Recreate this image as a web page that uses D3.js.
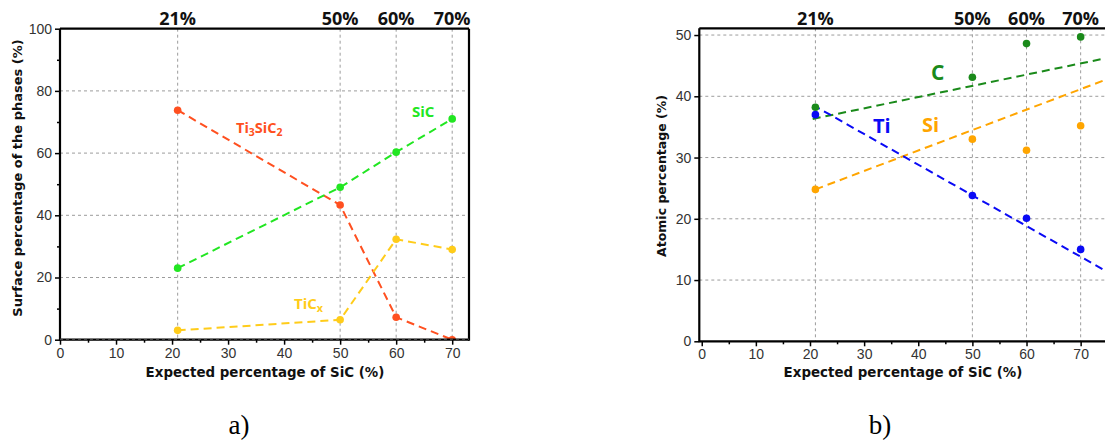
<!DOCTYPE html>
<html>
<head>
<meta charset="utf-8">
<script src="https://cdn.jsdelivr.net/npm/d3@7"></script>
<style>
  html, body { margin: 0; padding: 0; background: #fff; }
  svg { display: block; }
</style>
</head>
<body>
<svg id="chart" width="1105" height="441"></svg>
<script>
// ---------- data ----------
const xCats = [21, 50, 60, 70];
const topLabels = ["21%", "50%", "60%", "70%"];

// panel a: surface percentage of phases
const ti3sic2 = [73.8, 43.3, 7.2, 0];
const sic = [23.0, 49.0, 60.3, 71.0];
const ticx = [3.0, 6.4, 32.3, 29.0];

// panel b: atomic percentage
const atomC = [38.2, 43.1, 48.6, 49.7];
const atomSi = [24.8, 33.0, 31.2, 35.2];
const atomTi = [37.0, 23.8, 20.1, 15.0];

// panel b: trend lines
const trendCX = [20.5, 80], trendCY = [36.3, 47.2];
const trendSiX = [21, 80], trendSiY = [24.8, 44.5];
const trendTiX = [20.5, 80], trendTiY = [38.6, 8.8];

const xTicksMajor = [0, 10, 20, 30, 40, 50, 60, 70];
const xTicksMinor = [5, 15, 25, 35, 45, 55, 65];
const yTicksA = [0, 20, 40, 60, 80, 100];
const yTicksAMinor = [10, 30, 50, 70, 90];
const yGridA = [0, 20, 40, 60, 80];
const yTicksB = [0, 10, 20, 30, 40, 50];

// ---------- setup ----------
const svg = d3.select("#chart");
const gridColor = "#9c9c9c";
const tickFont = "'Liberation Sans', Arial, sans-serif";
const labelFont = "'DejaVu Sans', sans-serif";
const annFont = "'Open Sans', sans-serif";

function zip(xs, ys) { return xs.map((x, i) => [x, ys[i]]); }

function panel(opts) {
  const { x, y, clipId, right } = opts;
  const g = svg.append("g");
  const [x0, x1] = [x.range()[0], right];
  const [yb, yt] = y.range();

  svg.append("clipPath").attr("id", clipId)
    .append("rect").attr("x", x0).attr("y", yt).attr("width", x1 - x0).attr("height", yb - yt);

  // gridlines
  g.selectAll(".hg").data(opts.yGrid).enter().append("line")
    .attr("x1", x0).attr("x2", x1)
    .attr("y1", d => y(d)).attr("y2", d => y(d))
    .attr("stroke", gridColor).attr("stroke-width", 1).attr("stroke-dasharray", "3,3");
  g.selectAll(".vg").data(xCats).enter().append("line")
    .attr("x1", d => x(d)).attr("x2", d => x(d))
    .attr("y1", yt).attr("y2", yb)
    .attr("stroke", gridColor).attr("stroke-width", 1).attr("stroke-dasharray", "3,3");

  // x axis
  const xAxis = d3.axisBottom(x).tickValues(xTicksMajor).tickSize(5).tickPadding(3).tickFormat(d3.format("d"));
  const xa = g.append("g").attr("transform", `translate(0,${yb})`).call(xAxis);
  xa.select(".domain").remove();
  xa.selectAll("line").attr("stroke", "#000").attr("stroke-width", 1.5);
  xa.selectAll("text").attr("font-family", tickFont).attr("font-size", 14).attr("fill", "#333");
  const xaMinor = d3.axisBottom(x).tickValues(xTicksMinor).tickSize(3).tickFormat("");
  const xm = g.append("g").attr("transform", `translate(0,${yb})`).call(xaMinor);
  xm.select(".domain").remove();
  xm.selectAll("line").attr("stroke", "#000").attr("stroke-width", 1.5);

  // y axis
  const yAxis = d3.axisLeft(y).tickValues(opts.yTicks).tickSize(5).tickPadding(3).tickFormat(d3.format("d"));
  const ya = g.append("g").attr("transform", `translate(${x0},0)`).call(yAxis);
  ya.select(".domain").remove();
  ya.selectAll("line").attr("stroke", "#000").attr("stroke-width", 1.5);
  ya.selectAll("text").attr("font-family", tickFont).attr("font-size", 14).attr("fill", "#333");
  if (opts.yMinor) {
    const yam = d3.axisLeft(y).tickValues(opts.yMinor).tickSize(3).tickFormat("");
    const ym = g.append("g").attr("transform", `translate(${x0},0)`).call(yam);
    ym.select(".domain").remove();
    ym.selectAll("line").attr("stroke", "#000").attr("stroke-width", 1.5);
  }

  // top labels
  g.selectAll(".toplab").data(xCats).enter().append("text")
    .attr("x", d => x(d)).attr("y", 25)
    .attr("text-anchor", "middle")
    .attr("font-family", annFont).attr("font-weight", 700).attr("font-size", 18)
    .attr("fill", "#111")
    .text((d, i) => topLabels[i]);

  // axis titles
  g.append("text")
    .attr("x", opts.xTitleX).attr("y", 377)
    .attr("text-anchor", "middle")
    .attr("font-family", labelFont).attr("font-weight", "bold").attr("font-size", 13.4)
    .attr("fill", "#111")
    .text("Expected percentage of SiC (%)");
  g.append("text")
    .attr("transform", `translate(${opts.yTitleX},${opts.yTitleY}) rotate(-90)`)
    .attr("text-anchor", "middle")
    .attr("font-family", labelFont).attr("font-weight", "bold").attr("font-size", opts.yTitleSize)
    .attr("fill", "#111")
    .text(opts.yTitle);

  const data = svg.append("g").attr("clip-path", `url(#${clipId})`);
  return { g, data, x0, x1, yb, yt };
}

function spines(p, showRight, bottomDashed) {
  const s = svg.append("g");
  s.append("line").attr("x1", p.x0).attr("x2", p.x0).attr("y1", p.yt).attr("y2", p.yb + 1)
    .attr("stroke", "#000").attr("stroke-width", 2.2);
  s.append("line").attr("x1", p.x0).attr("x2", p.x1).attr("y1", p.yt).attr("y2", p.yt)
    .attr("stroke", "#000").attr("stroke-width", 2.2);
  s.append("line").attr("x1", p.x0).attr("x2", p.x1).attr("y1", p.yb).attr("y2", p.yb)
    .attr("stroke", "#000").attr("stroke-width", 2.2);
  if (showRight) {
    s.append("line").attr("x1", p.x1).attr("x2", p.x1).attr("y1", p.yt).attr("y2", p.yb + 1)
      .attr("stroke", "#000").attr("stroke-width", 2.2);
  }
  if (bottomDashed) {
    s.append("line").attr("x1", p.x0).attr("x2", p.x1).attr("y1", p.yb - 0.5).attr("y2", p.yb - 0.5)
      .attr("stroke", "#777").attr("stroke-width", 0.8).attr("stroke-dasharray", "3,3");
  }
}

// ---------- panel a ----------
const xA = d3.scaleLinear().domain([0, 73]).range([60, 469]);
const yA = d3.scaleLinear().domain([0, 100]).range([339.7, 28.7]);
const pA = panel({
  x: xA, y: yA, clipId: "clipA", right: 469,
  yGrid: yGridA, yTicks: yTicksA, yMinor: yTicksAMinor,
  xTitleX: 265, yTitleX: 22, yTitleY: 178, yTitleSize: 13,
  yTitle: "Surface percentage of the phases (%)"
});

const lineA = d3.line().x(d => xA(d[0])).y(d => yA(d[1]));
const seriesA = [
  { vals: ti3sic2, color: "#ff5020" },
  { vals: sic, color: "#22e622" },
  { vals: ticx, color: "#ffcc1a" }
];
seriesA.forEach(s => {
  const pts = zip(xCats, s.vals);
  pA.data.append("path").datum(pts).attr("d", lineA)
    .attr("fill", "none").attr("stroke", s.color).attr("stroke-width", 2)
    .attr("stroke-dasharray", "8,5");
  pA.data.selectAll(null).data(pts).enter().append("circle")
    .attr("cx", d => xA(d[0])).attr("cy", d => yA(d[1])).attr("r", 3.8)
    .attr("fill", s.color);
});
spines(pA, true, true);

// annotations
function subLabel(x, y, parts, color, size) {
  const t = svg.append("text").attr("x", x).attr("y", y)
    .attr("font-family", annFont).attr("font-weight", 700).attr("font-size", size)
    .attr("fill", color);
  parts.forEach(p => {
    const ts = t.append("tspan").text(p.t);
    if (p.sub) ts.attr("font-size", size * 0.72).attr("dy", 3);
    else if (p.after) ts.attr("dy", -3);
  });
}
subLabel(236, 133, [{ t: "Ti" }, { t: "3", sub: true }, { t: "SiC", after: true }, { t: "2", sub: true }], "#ff5020", 14.5);
subLabel(412, 117, [{ t: "SiC" }], "#22e622", 15);
subLabel(294, 309, [{ t: "TiC" }, { t: "x", sub: true }], "#ffcc1a", 15);

// ---------- panel b ----------
const xB = d3.scaleLinear().domain([-0.45, 76]).range([699.3, 699.3 + 5.413 * 76.45]);
const yB = d3.scaleLinear().domain([0, 51.1]).range([341.3, 28.3]);
const pB = panel({
  x: xB, y: yB, clipId: "clipB", right: 1110,
  yGrid: [10, 20, 30, 40, 50], yTicks: yTicksB, yMinor: null,
  xTitleX: 903, yTitleX: 666, yTitleY: 176, yTitleSize: 12.5,
  yTitle: "Atomic percentage (%)"
});
const lineB = d3.line().x(d => xB(d[0])).y(d => yB(d[1]));
const seriesB = [
  { vals: atomC, tx: trendCX, ty: trendCY, color: "#1a8a1a" },
  { vals: atomSi, tx: trendSiX, ty: trendSiY, color: "#ffa500" },
  { vals: atomTi, tx: trendTiX, ty: trendTiY, color: "#0a0af5" }
];
seriesB.forEach(s => {
  pB.data.append("path").datum(zip(s.tx, s.ty)).attr("d", lineB)
    .attr("fill", "none").attr("stroke", s.color).attr("stroke-width", 2)
    .attr("stroke-dasharray", "8,5");
});
seriesB.forEach(s => {
  pB.data.selectAll(null).data(zip(xCats, s.vals)).enter().append("circle")
    .attr("cx", d => xB(d[0])).attr("cy", d => yB(d[1])).attr("r", 3.8)
    .attr("fill", s.color);
});
spines(pB, false, false);

subLabel(931, 80, [{ t: "C" }], "#1a8a1a", 21);
subLabel(873, 133, [{ t: "Ti" }], "#0a0af5", 20);
subLabel(922, 132, [{ t: "Si" }], "#ffa500", 20);

// captions
svg.append("text").attr("x", 239).attr("y", 434).attr("text-anchor", "middle")
  .attr("font-family", "'Liberation Serif', 'Times New Roman', serif").attr("font-size", 27)
  .attr("fill", "#000").text("a)");
svg.append("text").attr("x", 880).attr("y", 434).attr("text-anchor", "middle")
  .attr("font-family", "'Liberation Serif', 'Times New Roman', serif").attr("font-size", 27)
  .attr("fill", "#000").text("b)");
</script>
</body>
</html>
